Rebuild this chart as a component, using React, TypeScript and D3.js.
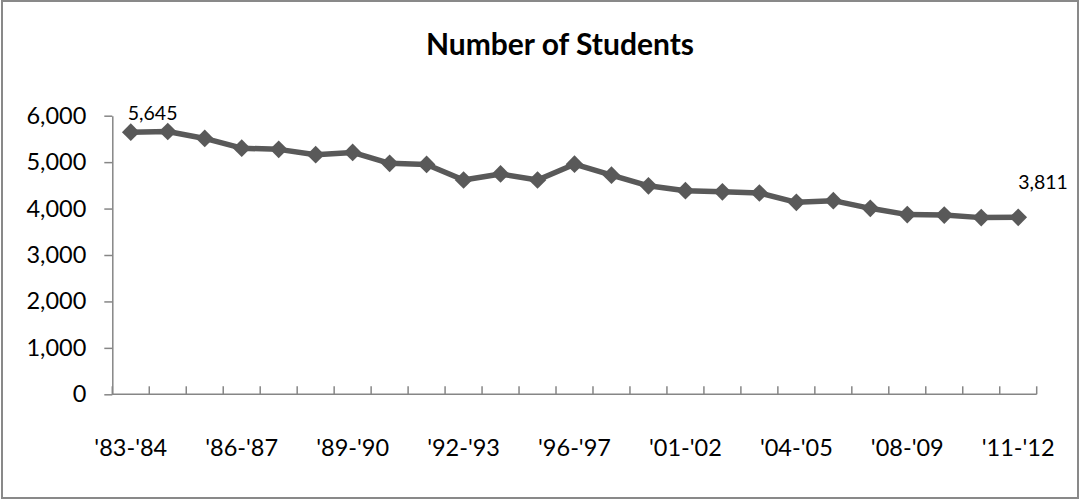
import { FC, useEffect, useRef } from "react";
import * as d3 from "d3";

const years = [
    "'83-'84", "'84-'85", "'85-'86", "'86-'87", "'87-'88", "'88-'89", "'89-'90",
    "'90-'91", "'91-'92", "'92-'93", "'93-'94", "'94-'95", "'96-'97", "'97-'98",
    "'99-'00", "'01-'02", "'02-'03", "'03-'04", "'04-'05", "'05-'06", "'06-'07",
    "'08-'09", "'09-'10", "'10-'11", "'11-'12",
];

const students = [
    5645, 5660, 5510, 5300, 5275, 5160, 5210, 4975, 4950, 4615, 4745, 4615, 4955,
    4720, 4490, 4385, 4360, 4335, 4135, 4170, 4005, 3870, 3860, 3805, 3811,
];

const yTicks = [0, 1000, 2000, 3000, 4000, 5000, 6000];
const labelledYears = years.filter((_, i) => i % 3 === 0);

const width = 1081;
const height = 500;
const marginLeft = 112.3;
const marginRight = 44.3;
const marginTop = 115.7;
const marginBottom = 105.7;
const font = "Lato, 'Open Sans', sans-serif";
const axisColor = "#868686";
const lineColor = "#595959";

const StudentsChart: FC = () => {
    const svgRef = useRef<SVGSVGElement>(null);

    useEffect(() => {
        if (!svgRef.current) return;
        const svg = d3.select(svgRef.current);

        const x = d3.scaleBand(years, [marginLeft, width - marginRight]);
        const y = d3.scaleLinear([0, 6000], [height - marginBottom, marginTop]);
        const cx = (d: string) => (x(d) ?? 0) + x.bandwidth() / 2;

        // outer chart border
        svg.append("rect")
            .attr("x", 2)
            .attr("y", 1)
            .attr("width", 1076)
            .attr("height", 497)
            .attr("fill", "white")
            .attr("stroke", "#898989")
            .attr("stroke-width", 2);

        svg.append("text")
            .attr("x", 560)
            .attr("y", 55)
            .attr("text-anchor", "middle")
            .attr("font-family", font)
            .attr("font-weight", "bold")
            .attr("font-size", 30)
            .attr("fill", "#000")
            .text("Number of Students");

        // y axis
        svg.append("g")
            .attr("transform", `translate(${marginLeft},0)`)
            .call(
                d3
                    .axisLeft(y)
                    .tickValues(yTicks)
                    .tickFormat(d3.format(","))
                    .tickSize(8)
                    .tickPadding(18)
                    .tickSizeOuter(0)
            )
            .call((g) => g.select(".domain").attr("stroke", axisColor).attr("stroke-width", 1.5))
            .call((g) => g.selectAll(".tick line").attr("stroke", axisColor).attr("stroke-width", 1.5))
            .call((g) =>
                g
                    .selectAll(".tick text")
                    .attr("font-family", font)
                    .attr("font-size", 23.5)
                    .attr("fill", "#000")
            );

        // x axis: ticks between categories, pointing up
        const xAxis = svg.append("g");
        const [x0, x1] = x.range();
        xAxis.append("line")
            .attr("x1", x0)
            .attr("x2", x1)
            .attr("y1", y(0))
            .attr("y2", y(0))
            .attr("stroke", axisColor)
            .attr("stroke-width", 1.5);
        const boundaries = years.map((d) => x(d) ?? 0).concat([x1]);
        xAxis.selectAll("line.tick")
            .data(boundaries)
            .join("line")
            .attr("class", "tick")
            .attr("x1", (d) => d)
            .attr("x2", (d) => d)
            .attr("y1", y(0))
            .attr("y2", y(0) - 8)
            .attr("stroke", axisColor)
            .attr("stroke-width", 1.5);
        xAxis.selectAll("text")
            .data(labelledYears)
            .join("text")
            .attr("x", (d) => cx(d))
            .attr("y", 456)
            .attr("text-anchor", "middle")
            .attr("font-family", font)
            .attr("font-size", 23.5)
            .attr("fill", "#000")
            .text((d) => d);

        const points = years.map((d, i) => ({ year: d, value: students[i] }));

        const line = d3
            .line<{ year: string; value: number }>()
            .x((d) => cx(d.year))
            .y((d) => y(d.value));

        svg.append("path")
            .attr("fill", "none")
            .attr("stroke", lineColor)
            .attr("stroke-width", 5.5)
            .attr("stroke-linejoin", "round")
            .attr("d", line(points));

        const diamond = d3.symbol(d3.symbolDiamond2, 200);
        svg.append("g")
            .selectAll("path")
            .data(points)
            .join("path")
            .attr("transform", (d) => `translate(${cx(d.year)},${y(d.value)})`)
            .attr("d", diamond())
            .attr("fill", lineColor);

        // data labels at first and last point
        const first = points[0];
        const last = points[points.length - 1];
        svg.append("text")
            .attr("x", cx(first.year) - 3)
            .attr("y", y(first.value) - 12)
            .attr("font-family", font)
            .attr("font-size", 19.5)
            .attr("fill", "#000")
            .text(d3.format(",")(first.value));
        svg.append("text")
            .attr("x", cx(last.year))
            .attr("y", y(last.value) - 28)
            .attr("font-family", font)
            .attr("font-size", 19.5)
            .attr("fill", "#000")
            .text(d3.format(",")(last.value));

        return () => {
            svg.selectAll("*").remove();
        };
    }, []);

    return (
        <svg
            ref={svgRef}
            width={width}
            height={height}
            viewBox={`0 0 ${width} ${height}`}
            style={{ position: "absolute", left: 0, top: 0 }}
        />
    );
};

export default function App() {
    return <StudentsChart />;
}
